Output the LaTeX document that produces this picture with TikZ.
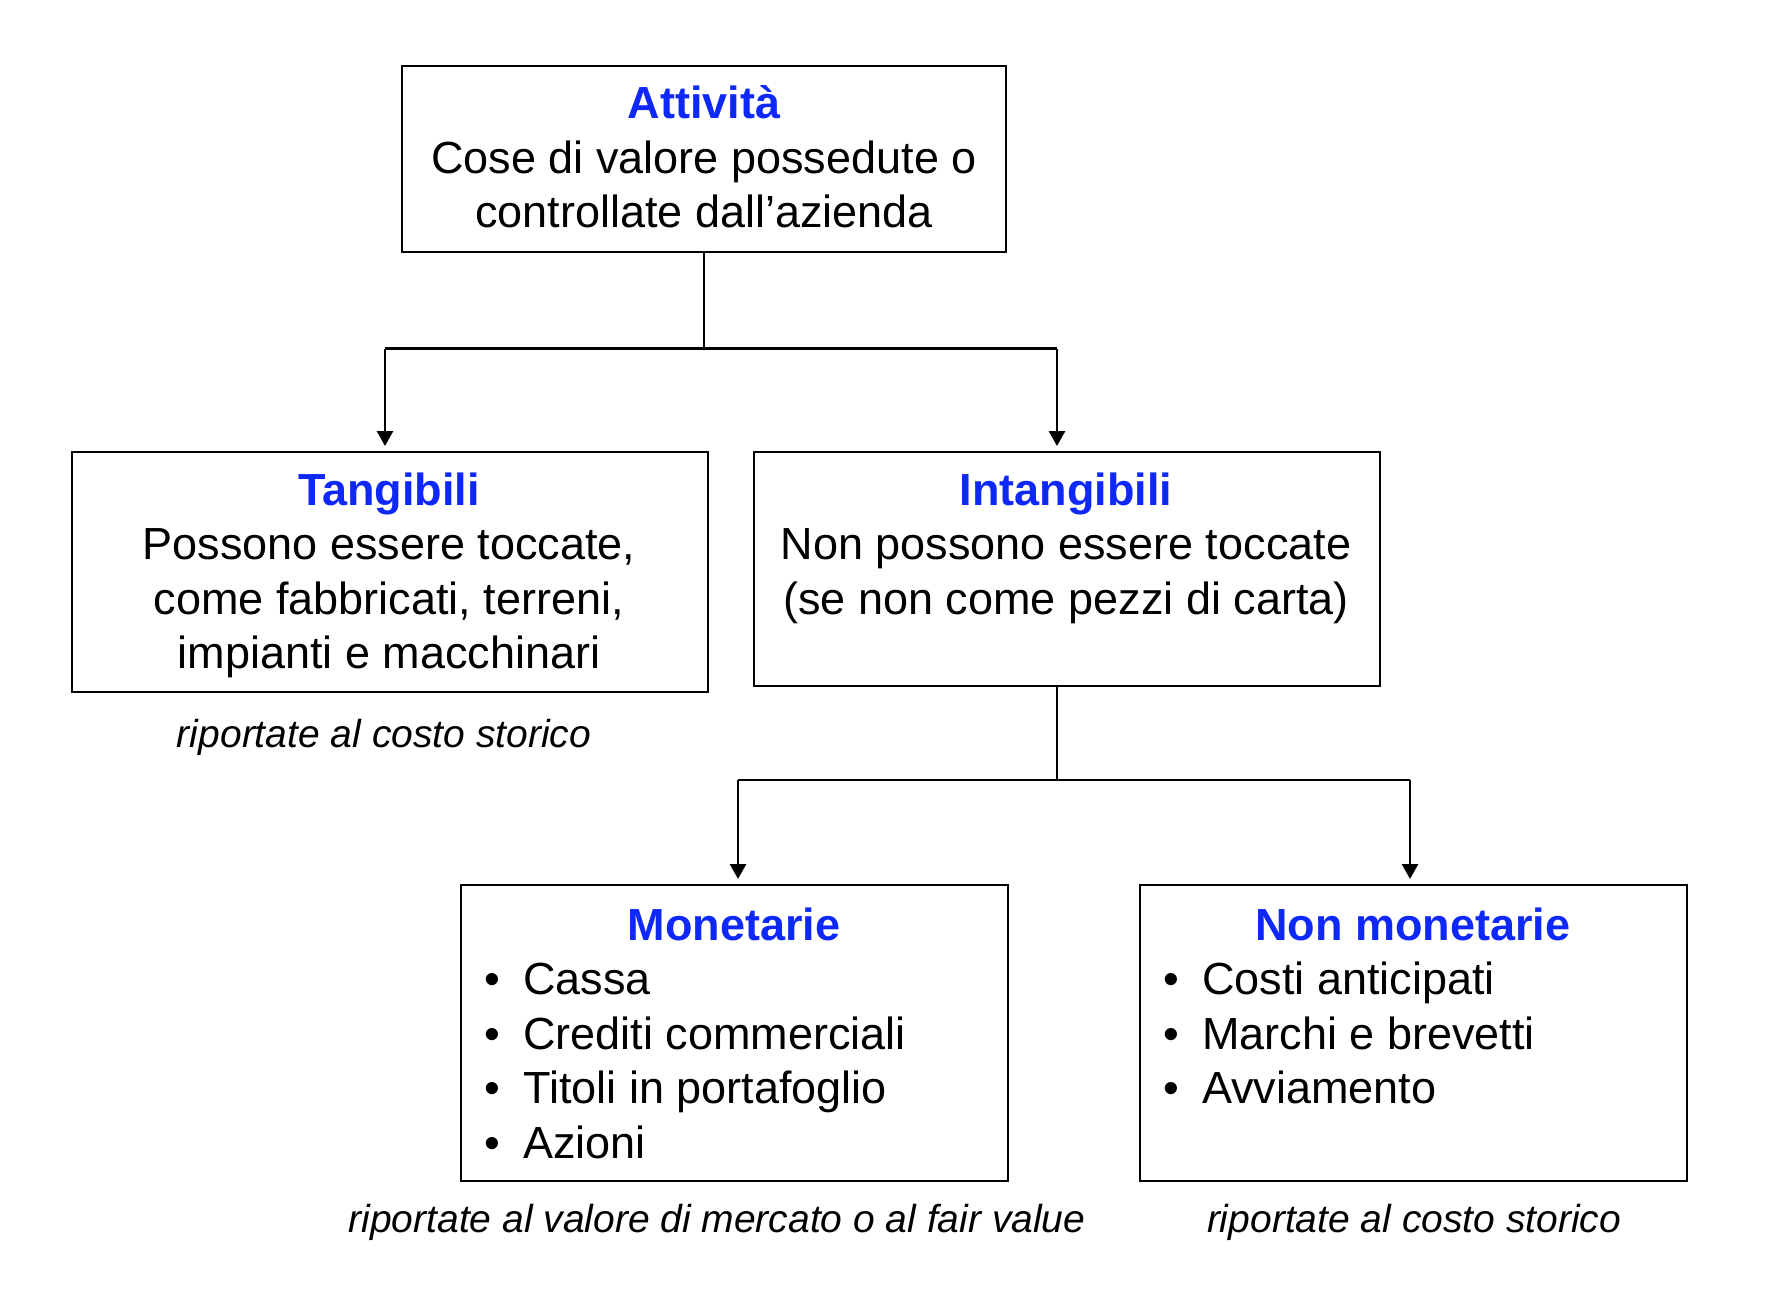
\documentclass[tikz,border=0pt]{standalone}
\usepackage{fontspec}
\setmainfont{Liberation Sans}
\usetikzlibrary{arrows.meta}
\definecolor{ttl}{RGB}{15,40,250}
\newcommand{\bul}{\makebox[39pt][l]{•}}
\begin{document}
\begin{tikzpicture}[x=1pt,y=-1pt,
  box/.style={draw,line width=2.8pt,inner sep=0pt,outer sep=0pt,anchor=north west},
  txt/.style={font=\fontsize{45}{54.5}\selectfont,align=center,anchor=base,inner sep=0pt},
  lst/.style={font=\fontsize{45}{54.5}\selectfont,align=left,anchor=base west,inner sep=0pt},
  note/.style={font=\fontsize{39}{47}\selectfont\itshape,anchor=base,inner sep=0pt},
  conn/.style={line width=2.8pt},
  arr/.style={line width=2.8pt,-{Triangle[width=16pt,length=15pt]},shorten >=6pt}]
\useasboundingbox (0,0) rectangle (1780,1308);
% boxes
\node[box,minimum width=604pt,minimum height=186pt] (att) at (402,66) {};
\node[box,minimum width=636pt,minimum height=240pt] (tan) at (72,452) {};
\node[box,minimum width=626pt,minimum height=234pt] (int) at (754,452) {};
\node[box,minimum width=547pt,minimum height=296pt] (mon) at (461,885) {};
\node[box,minimum width=547pt,minimum height=296pt] (nmon) at (1140,885) {};
% texts (base anchor = baseline of the last line)
\node[txt] (attT) at (704,228) {\textbf{\color{ttl}Attività}\\Cose di valore possedute o\\controllate dall’azienda};
\node[txt] (tanT) at (389,668.5) {\textbf{\color{ttl}Tangibili}\\Possono essere toccate,\\come fabbricati, terreni,\\impianti e macchinari};
\node[txt] (intT) at (1066,614) {\textbf{\color{ttl}Intangibili}\\Non possono essere toccate\\(se non come pezzi di carta)};
\node[txt] (monT) at (734,940) {\textbf{\color{ttl}Monetarie}};
\node[lst] (monL) at (484,1158) {\bul Cassa\\\bul Crediti commerciali\\\bul Titoli in portafoglio\\\bul Azioni};
\node[txt] (nmonT) at (1413,940) {\textbf{\color{ttl}Non monetarie}};
\node[lst] (nmonL) at (1163,1103.5) {\bul Costi anticipati\\\bul Marchi e brevetti\\\bul Avviamento};
% notes
\node[note] (n1) at (384,747) {riportate al costo storico};
\node[note] (n2) at (717,1232) {riportate al valore di mercato o al fair value};
\node[note] (n3) at (1414,1232) {riportate al costo storico};
% connectors
\coordinate (j1) at (704,348.5);
\coordinate (j1l) at (385,348.5);
\coordinate (j1r) at (1057,348.5);
\draw[conn] (att.south) -- (att.south |- j1);
\draw[conn] (j1l) -- (j1r);
\draw[arr] (j1l) -- (j1l |- tan.north);
\draw[arr] (j1r) -- (j1r |- int.north);
\coordinate (j2) at (1057,780);
\coordinate (j2l) at (738,780);
\coordinate (j2r) at (1410,780);
\draw[conn] (j1r |- int.south) -- (j2);
\draw[conn] (j2l) -- (j2r);
\draw[arr] (j2l) -- (j2l |- mon.north);
\draw[arr] (j2r) -- (j2r |- nmon.north);
\end{tikzpicture}
\end{document}
